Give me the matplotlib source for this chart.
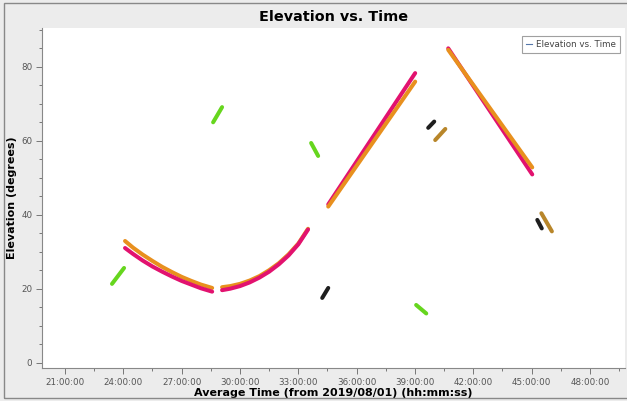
import matplotlib
matplotlib.use("Agg")
import matplotlib.pyplot as plt
from matplotlib.patches import Rectangle
from matplotlib.ticker import MultipleLocator, FuncFormatter

# hours since 2019/08/01 00:00 and elevation (deg)
pass_a_t = [24.09, 24.5, 25.0, 25.5, 26.0, 26.5, 27.0, 27.5, 28.0, 28.57]
pass_a_el = [31.0, 29.4, 27.6, 26.0, 24.6, 23.3, 22.1, 21.1, 20.1, 19.2]
pass_a2_el = [32.9, 31.1, 29.2, 27.5, 25.9, 24.5, 23.2, 22.1, 21.1, 20.2]

pass_b_t = [29.08, 29.5, 30.0, 30.5, 31.0, 31.5, 32.0, 32.5, 33.0, 33.5]
pass_b_el = [19.6, 20.0, 20.7, 21.7, 23.0, 24.6, 26.6, 29.0, 32.0, 36.0]
pass_b2_el = [20.4, 20.7, 21.3, 22.2, 23.4, 25.0, 26.9, 29.3, 32.2, 36.2]

pass_c_t = [34.54, 39.01]
pass_c_el = [42.8, 78.3]
pass_c2_el = [42.2, 76.0]

pass_d_t = [40.71, 45.03]
pass_d_el = [85.0, 50.9]
pass_d2_el = [84.6, 52.8]

green_t = [[23.42, 24.04], [28.62, 29.08], [33.66, 34.02], [39.06, 39.58]]
green_el = [[21.3, 25.6], [65.0, 69.1], [59.4, 55.9], [15.6, 13.3]]

black_t = [[34.23, 34.54], [39.68, 39.99], [45.29, 45.52]]
black_el = [[17.5, 20.2], [63.5, 65.2], [38.6, 36.3]]

gold_t = [[40.04, 40.56], [45.5, 46.04]]
gold_el = [[60.2, 63.2], [40.4, 35.5]]

MAGENTA = "#e2126f"
ORANGE = "#e8901e"
GREEN = "#66d61e"
BLACK = "#1e1e1e"
GOLD = "#b8862a"

fig = plt.figure(figsize=(6.27, 4.01), dpi=100, facecolor="#ececec")
ax = fig.add_axes([42 / 627, 1 - 368 / 401, 583 / 627, 340 / 401])
ax.set_facecolor("white")

fig.patches.append(Rectangle((4 / 627, 3 / 401), 1.0, 1 - 6 / 401, transform=fig.transFigure,
                             fill=False, edgecolor="#888888", linewidth=1.0))

kw = dict(linewidth=2.9, solid_capstyle="round", solid_joinstyle="round")
ax.plot(pass_a_t, pass_a2_el, color=ORANGE, **kw)
ax.plot(pass_a_t, pass_a_el, color=MAGENTA, **kw)
ax.plot(pass_b_t, pass_b2_el, color=ORANGE, **kw)
ax.plot(pass_b_t, pass_b_el, color=MAGENTA, **kw)
ax.plot(pass_c_t, pass_c_el, color=MAGENTA, **kw)
ax.plot(pass_c_t, pass_c2_el, color=ORANGE, **kw)
ax.plot(pass_d_t, pass_d_el, color=MAGENTA, **kw)
ax.plot(pass_d_t, pass_d2_el, color=ORANGE, **kw)

for t, e in zip(green_t, green_el):
    ax.plot(t, e, color=GREEN, **kw)
for t, e in zip(black_t, black_el):
    ax.plot(t, e, color=BLACK, **kw)
for t, e in zip(gold_t, gold_el):
    ax.plot(t, e, color=GOLD, **kw)

# legend entry
ax.plot([], [], color="#5577aa", linewidth=0.8, label="Elevation vs. Time")
leg = ax.legend(loc="upper right", bbox_to_anchor=(0.9985, 0.99), fontsize=6.3, frameon=True,
                fancybox=False, handlelength=0.6, handletextpad=0.5, borderpad=0.45,
                labelcolor="#444444")
leg.get_frame().set_edgecolor("#888888")
leg.get_frame().set_linewidth(0.8)

ax.set_xlim(19.82, 49.8)
ax.set_ylim(-1.45, 90.5)

ax.xaxis.set_major_locator(MultipleLocator(3))
ax.xaxis.set_minor_locator(MultipleLocator(1.5))
ax.xaxis.set_major_formatter(FuncFormatter(lambda v, p: f"{int(round(v)):02d}:00:00"))
ax.yaxis.set_major_locator(MultipleLocator(20))
ax.yaxis.set_minor_locator(MultipleLocator(5))

ax.tick_params(axis="both", which="major", labelsize=6.3, labelcolor="#555555", color="#777777",
               length=4, width=0.7, pad=3)
ax.tick_params(axis="both", which="minor", color="#777777", length=2, width=0.7)

for s in ["top", "right"]:
    ax.spines[s].set_visible(False)
for s in ["left", "bottom"]:
    ax.spines[s].set_color("#888888")
    ax.spines[s].set_linewidth(0.8)

ax.set_xlabel("Average Time (from 2019/08/01) (hh:mm:ss)", fontsize=8, fontweight="bold", labelpad=1)
ax.set_ylabel("Elevation (degrees)", fontsize=8, fontweight="bold", labelpad=3)
fig.text(334 / 627, 1 - 17 / 401, "Elevation vs. Time", ha="center", va="center",
         fontsize=10.4, fontweight="bold")

fig.savefig("out.png", dpi=100, facecolor=fig.get_facecolor())
